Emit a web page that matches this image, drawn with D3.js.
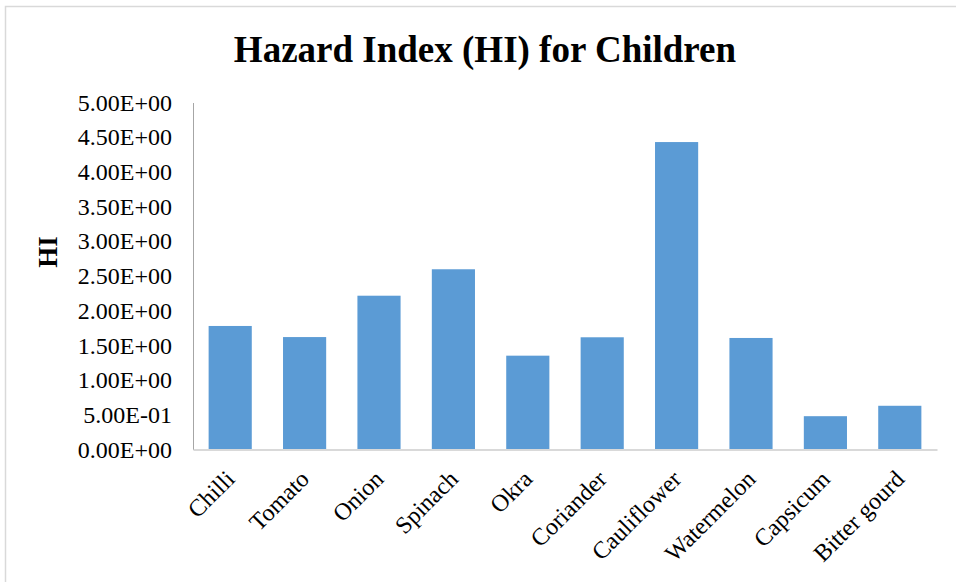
<!DOCTYPE html>
<html>
<head>
<meta charset="utf-8">
<script src="https://cdn.jsdelivr.net/npm/d3@7"></script>
<style>
  html, body { margin: 0; padding: 0; background: #fff; }
  svg { display: block; }
  text { font-family: "Liberation Serif", "Times New Roman", serif; fill: #000; }
</style>
</head>
<body>
<svg id="chart" width="956" height="582"></svg>
<script>
// Hazard index per vegetable, children
const categories = ["Chilli", "Tomato", "Onion", "Spinach", "Okra", "Coriander",
                    "Cauliflower", "Watermelon", "Capsicum", "Bitter gourd"];
const hiValues = [1.78, 1.62, 2.216, 2.597, 1.352, 1.617, 4.43, 1.607, 0.48, 0.63];
const yTicks = [0, 0.5, 1, 1.5, 2, 2.5, 3, 3.5, 4, 4.5, 5];

const svg = d3.select("#chart");
const W = 956, H = 582;
const plot = { left: 193, right: 937, top: 102.5, bottom: 449.5 };

// Outer chart frame (extends past the page edge on the right/bottom)
svg.append("rect")
  .attr("x", 5.5).attr("y", 6.5)
  .attr("width", W + 10).attr("height", H + 10)
  .attr("fill", "#fff").attr("stroke", "#d9d9d9").attr("stroke-width", 1.5);

const x = d3.scaleBand().domain(categories)
  .range([plot.left, plot.right]).paddingInner(0.42).paddingOuter(0.21);
const y = d3.scaleLinear().domain([0, 5]).range([plot.bottom, plot.top]);

// Title
svg.append("text")
  .attr("x", 485).attr("y", 62)
  .attr("text-anchor", "middle")
  .attr("font-size", 37).attr("font-weight", "bold")
  .text("Hazard Index (HI) for Children");

// Y axis
const yAxis = d3.axisLeft(y).tickValues(yTicks).tickSize(0).tickPadding(21)
  .tickFormat(d => {
    const s = d3.format(".2e")(d);           // e.g. 5.00e+0
    const [m, e] = s.split("e");
    const sign = e[0] === "-" ? "-" : "+";
    const ex = Math.abs(+e).toString().padStart(2, "0");
    return m + "E" + sign + ex;
  });
const gy = svg.append("g").attr("transform", `translate(${plot.left},0)`).call(yAxis);
gy.select(".domain").attr("stroke", "#a6a6a6").attr("stroke-width", 1);
gy.selectAll("text").attr("font-size", 24);

// Y axis title
svg.append("text")
  .attr("transform", "translate(57,252) rotate(-90)")
  .attr("text-anchor", "middle")
  .attr("font-size", 27).attr("font-weight", "bold")
  .text("HI");

// Bars
svg.append("g").selectAll("rect")
  .data(hiValues)
  .join("rect")
  .attr("x", (d, i) => x(categories[i]))
  .attr("y", d => y(d))
  .attr("width", x.bandwidth())
  .attr("height", d => y(0) - y(d))
  .attr("fill", "#5b9bd5");

// X axis
const xAxis = d3.axisBottom(x).tickSize(0).tickPadding(0);
const gx = svg.append("g").attr("transform", `translate(0,${plot.bottom})`).call(xAxis);
gx.select(".domain").attr("stroke", "#d9d9d9").attr("stroke-width", 2);
gx.selectAll("text")
  .attr("font-size", 24)
  .attr("text-anchor", "end")
  .attr("dy", null).attr("y", null)
  .attr("transform", "translate(6,31) rotate(-45)");
</script>
</body>
</html>
